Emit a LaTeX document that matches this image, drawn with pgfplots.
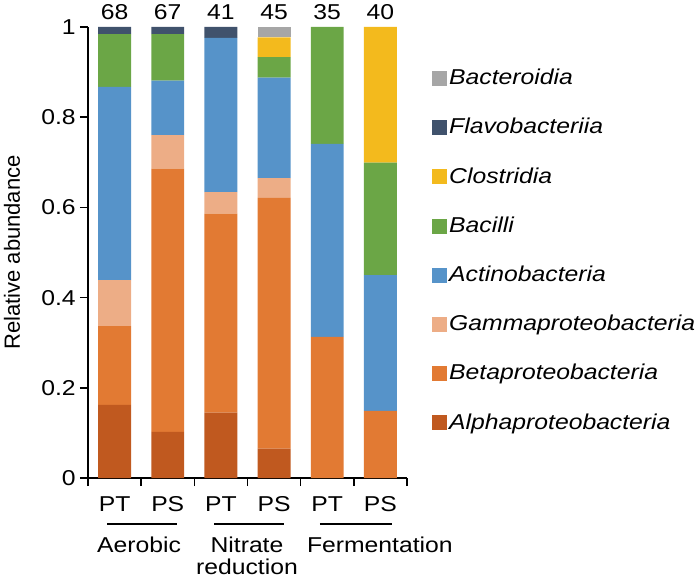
\documentclass[border=0pt]{standalone}
\usepackage{fontspec}
\setmainfont{Liberation Sans}[FakeStretch=1.15]
\newfontfamily\ylabfont{Liberation Sans}
\usepackage{pgfplots}
\usepackage{pgfplotstable}
\pgfplotsset{compat=1.18}
\definecolor{calpha}{RGB}{192,89,31}
\definecolor{cbeta}{RGB}{226,122,51}
\definecolor{cgamma}{RGB}{237,173,134}
\definecolor{cactino}{RGB}{86,147,201}
\definecolor{cbacilli}{RGB}{107,166,70}
\definecolor{cclost}{RGB}{243,186,29}
\definecolor{cflavo}{RGB}{64,82,108}
\definecolor{cbactero}{RGB}{166,166,166}
\pgfplotstableread{
x alpha beta gamma actino bacilli clost flavo bactero
0 0.162 0.175 0.102 0.428 0.117 0 0.016 0
1 0.102 0.584 0.074 0.121 0.103 0 0.016 0
2 0.145 0.441 0.048 0.342 0 0 0.024 0
3 0.065 0.556 0.044 0.223 0.045 0.044 0 0.023
4 0 0.313 0 0.428 0.259 0 0 0
5 0 0.149 0 0.301 0.249 0.301 0 0
}\datatable
\begin{document}
\fontsize{21.5bp}{25bp}\selectfont
\begin{tikzpicture}
\begin{axis}[
  scale only axis,
  width=319bp, height=451bp,
  at={(0,0)}, anchor=south west,
  xmin=-0.5, xmax=5.5, ymin=0, ymax=1,
  ybar stacked, bar width=0.62,
  axis x line*=bottom, axis y line*=left,
  axis line style={line width=1.5bp},
  every tick/.style={line width=1.5bp, black},
  tick align=outside,
  major tick length=8bp, minor tick length=8bp,
  xtick={0,1,2,3,4,5},
  xticklabels={PT,PS,PT,PS,PT,PS},
  major x tick style={draw=none},
  minor xtick={-0.5,0.5,1.5,2.5,3.5,4.5,5.5},
  ytick={0,0.2,0.4,0.6,0.8,1},
  /pgf/number format/assume math mode=true,
  yticklabel style={/pgf/number format/fixed, xshift=3bp},
  xticklabel style={anchor=center, yshift=-18bp},
  ylabel={Relative abundance},
  ylabel style={font=\ylabfont\fontsize{22bp}{26bp}\selectfont, at={(axis description cs:-0.238,0.5)}, anchor=center},
  clip=false,
  reverse legend,
  legend cell align=left,
  legend image code/.code={\fill[#1] (-4bp,-7.5bp) rectangle (11bp,7.5bp);},
  legend style={at={(1,1)}, anchor=north west, xshift=25bp, yshift=-40bp, draw=none, fill=none, font=\itshape, row sep=26.4bp, inner sep=0pt},
]
\addplot[fill=calpha, draw=none] table[x=x, y=alpha] {\datatable};
\addplot[fill=cbeta, draw=none] table[x=x, y=beta] {\datatable};
\addplot[fill=cgamma, draw=none] table[x=x, y=gamma] {\datatable};
\addplot[fill=cactino, draw=none] table[x=x, y=actino] {\datatable};
\addplot[fill=cbacilli, draw=none] table[x=x, y=bacilli] {\datatable};
\addplot[fill=cclost, draw=none] table[x=x, y=clost] {\datatable};
\addplot[fill=cflavo, draw=none] table[x=x, y=flavo] {\datatable};
\addplot[fill=cbactero, draw=none] table[x=x, y=bactero] {\datatable};
\legend{Alphaproteobacteria,Betaproteobacteria,Gammaproteobacteria,Actinobacteria,Bacilli,Clostridia,Flavobacteriia,Bacteroidia}
\node at ([yshift=15bp]axis cs:0,1) {68};
\node at ([yshift=15bp]axis cs:1,1) {67};
\node at ([yshift=15bp]axis cs:2,1) {41};
\node at ([yshift=15bp]axis cs:3,1) {45};
\node at ([yshift=15bp]axis cs:4,1) {35};
\node at ([yshift=15bp]axis cs:5,1) {40};
\draw[line width=1.5bp] ([yshift=-46bp]axis cs:-0.14,0) -- ([yshift=-46bp]axis cs:1.17,0);
\draw[line width=1.5bp] ([yshift=-46bp]axis cs:1.87,0) -- ([yshift=-46bp]axis cs:3.19,0);
\draw[line width=1.5bp] ([yshift=-46bp]axis cs:3.86,0) -- ([yshift=-46bp]axis cs:5.22,0);
\node at ([yshift=-67bp]axis cs:0.46,0) {Aerobic};
\node at ([yshift=-67bp]axis cs:2.49,0) {Nitrate};
\node at ([yshift=-89bp]axis cs:2.49,0) {reduction};
\node at ([yshift=-67bp]axis cs:4.99,0) {Fermentation};
\end{axis}
\pgfresetboundingbox
\path (-88bp,-102bp) rectangle (610bp,478bp);
\end{tikzpicture}
\end{document}
